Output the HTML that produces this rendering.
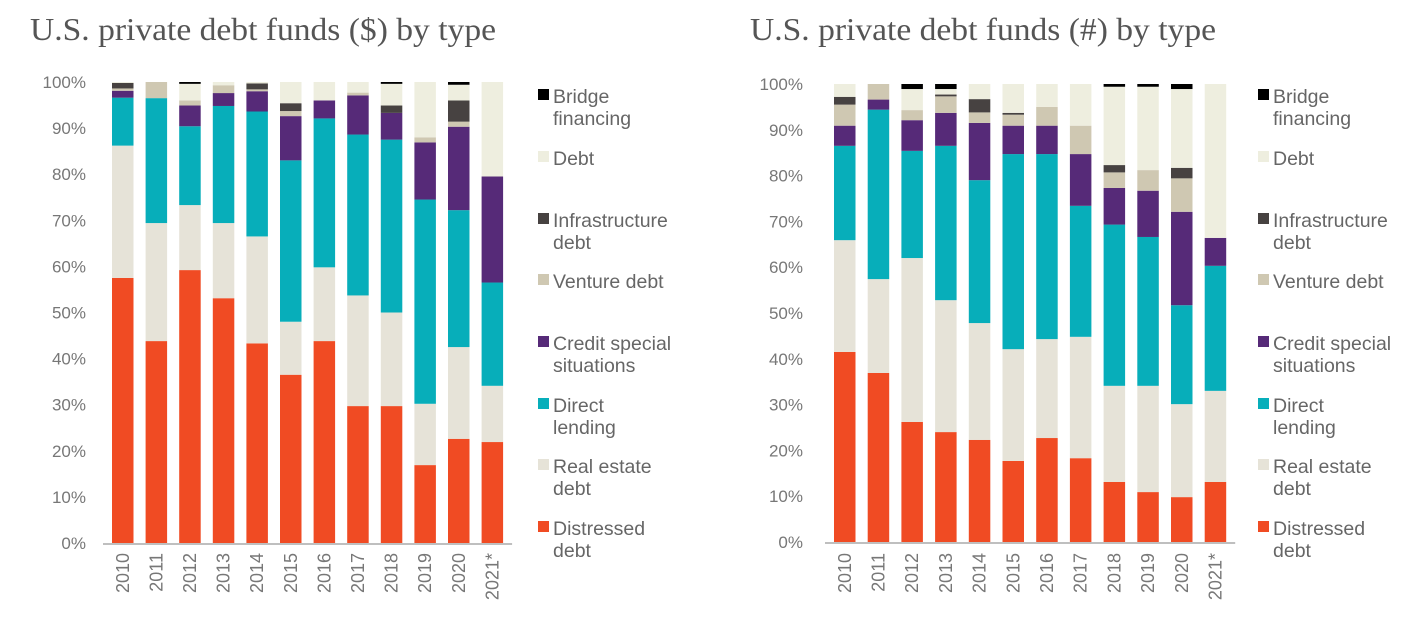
<!DOCTYPE html>
<html><head><meta charset="utf-8"><style>
body{margin:0;background:#fff;width:1418px;height:618px;overflow:hidden}
text{font-family:"Liberation Sans",sans-serif}
</style></head><body>
<svg id="c" width="1418" height="618"></svg>
<script>
const years=["2010","2011","2012","2013","2014","2015","2016","2017","2018","2019","2020","2021*"];
const seriesNames=["Distressed debt","Real estate debt","Direct lending","Credit special situations","Venture debt","Infrastructure debt","Debt","Bridge financing"];
const ticks=[0,10,20,30,40,50,60,70,80,90,100];
// left chart ($)
const L_distressed=[57.5,43.8,59.2,53.1,43.3,36.5,43.8,29.7,29.7,16.9,22.6,21.9];
const L_realestate=[28.7,25.6,14.1,16.3,23.2,11.5,16.0,24.0,20.3,13.3,19.9,12.2];
const L_direct=[10.4,27.1,17.1,25.4,27.1,35.0,32.3,34.9,37.5,44.3,29.7,22.4];
const L_css=[1.5,0,4.5,2.8,4.4,9.6,3.9,8.5,5.8,12.4,18.1,23.0];
const L_venture=[0.5,3.5,1.1,1.7,0.4,1.1,0,0.6,0,1.1,1.1,0];
const L_infra=[1.2,0,0,0,1.3,1.7,0,0,1.6,0,4.6,0];
const L_debt=[0.2,0,3.6,0.7,0.3,4.6,4.0,2.3,4.7,12.0,3.4,20.5];
const L_bridge=[0,0,0.4,0,0,0,0,0,0.4,0,0.6,0];
// right chart (#)
const R_distressed=[41.5,36.9,26.2,24.0,22.3,17.7,22.7,18.3,13.1,10.9,9.8,13.1];
const R_realestate=[24.4,20.5,35.8,28.8,25.5,24.4,21.6,26.5,21.0,23.2,20.3,19.9];
const R_direct=[20.6,37.0,23.4,33.7,31.2,42.6,40.4,28.6,35.2,32.5,21.6,27.3];
const R_css=[4.4,2.2,6.7,7.2,12.5,6.2,6.2,11.3,8.0,10.1,20.4,6.1];
const R_venture=[4.6,3.4,2.2,3.6,2.3,2.4,4.1,6.2,3.4,4.5,7.3,0];
const R_infra=[1.7,0,0,0.4,2.9,0.4,0,0,1.6,0,2.3,0];
const R_debt=[2.8,0,4.6,1.2,3.3,6.3,5.0,9.1,17.1,18.2,17.2,33.6];
const R_bridge=[0,0,1.1,1.1,0,0,0,0,0.6,0.6,1.1,0];

const colors=["#f04b23","#e6e3d8","#07aeba","#562a78","#cfc8b2","#474241","#eeeedf","#000000"];
const svg=document.getElementById('c');
const NS="http://www.w3.org/2000/svg";
function mk(t,a,p){const e=document.createElementNS(NS,t);for(const k in a)e.setAttribute(k,a[k]);(p||svg).appendChild(e);return e;}

function chart(cfg){
  const g=mk('g',{});
  
  
  const y=v=>cfg.y0-(cfg.y0-cfg.y100)*v/100;
  const x=i=>cfg.x0+i*cfg.step;
  const t=mk('text',{x:cfg.tx,y:40,'font-size':32,fill:'#555',textLength:466,lengthAdjust:'spacingAndGlyphs',style:'font-family:"Liberation Serif",serif'},g);
  t.textContent=cfg.title;
  
  
  ticks.forEach(v=>{
    const l=mk('text',{x:cfg.lx,y:y(v)+6,'font-size':17,fill:'#777','text-anchor':'end'},g);
    l.textContent=v+'%';
    
    
  });
  years.forEach((yr,i)=>{
    let acc=0;
    cfg.data.forEach((s,k)=>{
      const v=s[i]; if(v<=0)return;
      const r=mk('rect',{x:x(i),y:y(acc+v),width:cfg.bw,height:y(acc)-y(acc+v),fill:colors[k]},g);
      
      
      acc+=v;
    });
    const cx=x(i)+cfg.bw/2+6;
    const tl=mk('text',{x:cx,y:553,'font-size':18,fill:'#777','text-anchor':'end',transform:'rotate(-90 '+cx+' 553)'},g);
    tl.textContent=yr;
    
    
  });
  const ax=mk('line',{x1:cfg.x0-9,x2:x(11)+cfg.bw+9,y1:cfg.y0+1,y2:cfg.y0+1,stroke:'#aaa','stroke-width':1.5},g);
  
  
  const leg=[[7,["Bridge","financing"],96],[6,["Debt"],158],[5,["Infrastructure","debt"],220],[4,["Venture debt"],281],[3,["Credit special","situations"],343],[2,["Direct","lending"],405],[1,["Real estate","debt"],466],[0,["Distressed","debt"],528]];
  leg.forEach(([k,lines,ly])=>{
    const lg=mk('g',{},g);
    
    
    mk('rect',{x:cfg.legx,y:ly-7,width:11,height:11,fill:colors[k]},lg);
    lines.forEach((s,j)=>{
      const tt=mk('text',{x:cfg.legx+15,y:ly+7+j*22,'font-size':19.5,fill:'#666'},lg);
      tt.textContent=s;
    });
  });
}
chart({name:'chart-dollar',title:'U.S. private debt funds ($) by type',tx:30,lx:86,x0:112,step:33.6,bw:21.5,y0:543,y100:82,legx:538,
  data:[L_distressed,L_realestate,L_direct,L_css,L_venture,L_infra,L_debt,L_bridge]});
chart({name:'chart-count',title:'U.S. private debt funds (#) by type',tx:750,lx:803,x0:834,step:33.7,bw:21.5,y0:542,y100:84,legx:1258,
  data:[R_distressed,R_realestate,R_direct,R_css,R_venture,R_infra,R_debt,R_bridge]});
</script>
</body></html>
